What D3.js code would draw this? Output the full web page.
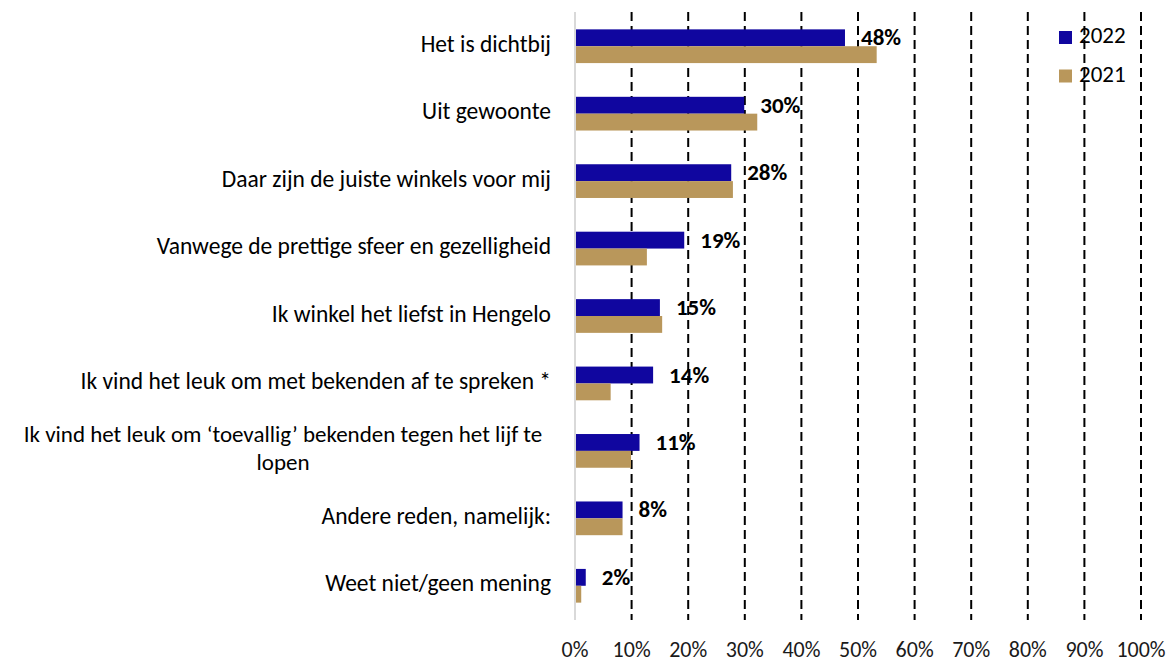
<!DOCTYPE html>
<html>
<head>
<meta charset="utf-8">
<script src="https://cdn.jsdelivr.net/npm/d3@7"></script>
<style>
  body { margin: 0; background: #fff; }
  text { font-family: Carlito, Calibri, Lato, sans-serif; }
</style>
</head>
<body>
<div id="chart"></div>
<script>
  // data
  var categories = [
    "Het is dichtbij",
    "Uit gewoonte",
    "Daar zijn de juiste winkels voor mij",
    "Vanwege de prettige sfeer en gezelligheid",
    "Ik winkel het liefst in Hengelo",
    "Ik vind het leuk om met bekenden af te spreken *",
    "Ik vind het leuk om \u2018toevallig\u2019 bekenden tegen het lijf te|lopen",
    "Andere reden, namelijk:",
    "Weet niet/geen mening"
  ];
  var series = ["2022", "2021"];
  var values2022 = [0.477, 0.299, 0.276, 0.193, 0.150, 0.138, 0.114, 0.084, 0.019];
  var values2021 = [0.533, 0.322, 0.279, 0.127, 0.154, 0.063, 0.099, 0.084, 0.011];
  var labels2022 = ["48%", "30%", "28%", "19%", "15%", "14%", "11%", "8%", "2%"];
  var xTicks = [0, 0.1, 0.2, 0.3, 0.4, 0.5, 0.6, 0.7, 0.8, 0.9, 1];
  var colors = { "2022": "#10069f", "2021": "#b9975b" };

  var W = 1176, H = 662;
  var svg = d3.select("#chart")
    .append("svg")
    .attr("width", W)
    .attr("height", H);

  var x = d3.scaleLinear().domain([0, 1]).range([575, 1141]);
  var y = d3.scaleBand().domain(categories).range([12.5, 619.5])
    .paddingInner(0.5).paddingOuter(0.25);
  var ySub = d3.scaleBand().domain(series).range([0, y.bandwidth()]);

  // dashed gridlines
  svg.append("g")
    .selectAll("line")
    .data(xTicks.slice(1))
    .enter()
    .append("line")
    .attr("x1", function(d){ return x(d); })
    .attr("x2", function(d){ return x(d); })
    .attr("y1", 12)
    .attr("y2", 620)
    .attr("stroke", "#000")
    .attr("stroke-width", 2)
    .attr("stroke-dasharray", "9,5");

  // tick labels
  svg.append("g")
    .selectAll("text")
    .data(xTicks)
    .enter()
    .append("text")
    .attr("x", function(d){ return x(d); })
    .attr("y", 652)
    .attr("text-anchor", "middle")
    .attr("dominant-baseline", "middle")
    .style("font-size", "22px")
    .style("fill", "#1a1a1a")
    .text(function(d){ return Math.round(d * 100) + "%"; });

  var rows = categories.map(function(c, i){
    return { cat: c, v2022: values2022[i], v2021: values2021[i], lab: labels2022[i] };
  });

  var g = svg.append("g")
    .selectAll("g")
    .data(rows)
    .enter()
    .append("g")
    .attr("transform", function(d){ return "translate(0," + y(d.cat) + ")"; });

  g.append("rect")
    .attr("x", x(0))
    .attr("y", ySub("2022"))
    .attr("width", function(d){ return x(d.v2022) - x(0); })
    .attr("height", ySub.bandwidth())
    .attr("fill", colors["2022"]);

  g.append("rect")
    .attr("x", x(0))
    .attr("y", ySub("2021"))
    .attr("width", function(d){ return x(d.v2021) - x(0); })
    .attr("height", ySub.bandwidth())
    .attr("fill", colors["2021"]);

  // value labels
  g.append("text")
    .attr("x", function(d){ return x(d.v2022) + 16; })
    .attr("y", ySub("2022") + ySub.bandwidth() / 2 + 2)
    .attr("dominant-baseline", "middle")
    .style("font-size", "23px")
    .style("font-weight", "bold")
    .style("fill", "#000")
    .text(function(d){ return d.lab; });

  // category labels
  g.each(function(d){
    var lines = d.cat.split("|");
    var sel = d3.select(this);
    if (lines.length == 1) {
      sel.append("text")
        .attr("x", 551)
        .attr("y", y.bandwidth() / 2)
        .attr("text-anchor", "end")
        .attr("dominant-baseline", "middle")
        .style("font-size", "23.5px")
        .style("fill", "#000")
        .text(lines[0]);
    } else {
      lines.forEach(function(l, k){
        sel.append("text")
          .attr("x", 283)
          .attr("y", y.bandwidth() / 2 + (k - (lines.length - 1) / 2) * 28)
          .attr("text-anchor", "middle")
          .attr("dominant-baseline", "middle")
          .style("font-size", "23px")
          .style("fill", "#000")
          .text(l);
      });
    }
  });

  // axis line
  svg.append("line")
    .attr("x1", x(0)).attr("x2", x(0))
    .attr("y1", 12).attr("y2", 620)
    .attr("stroke", "#d9d9d9")
    .attr("stroke-width", 2);

  // legend
  var leg = svg.append("g")
    .selectAll("g")
    .data(series)
    .enter()
    .append("g")
    .attr("transform", function(d, i){ return "translate(1059," + (31 + i * 38.5) + ")"; });

  leg.append("rect")
    .attr("width", 13)
    .attr("height", 13)
    .attr("fill", function(d){ return colors[d]; });

  leg.append("text")
    .attr("x", 20)
    .attr("y", 7)
    .attr("dominant-baseline", "middle")
    .style("font-size", "23px")
    .style("fill", "#000")
    .text(function(d){ return d; });
</script>
</body>
</html>
